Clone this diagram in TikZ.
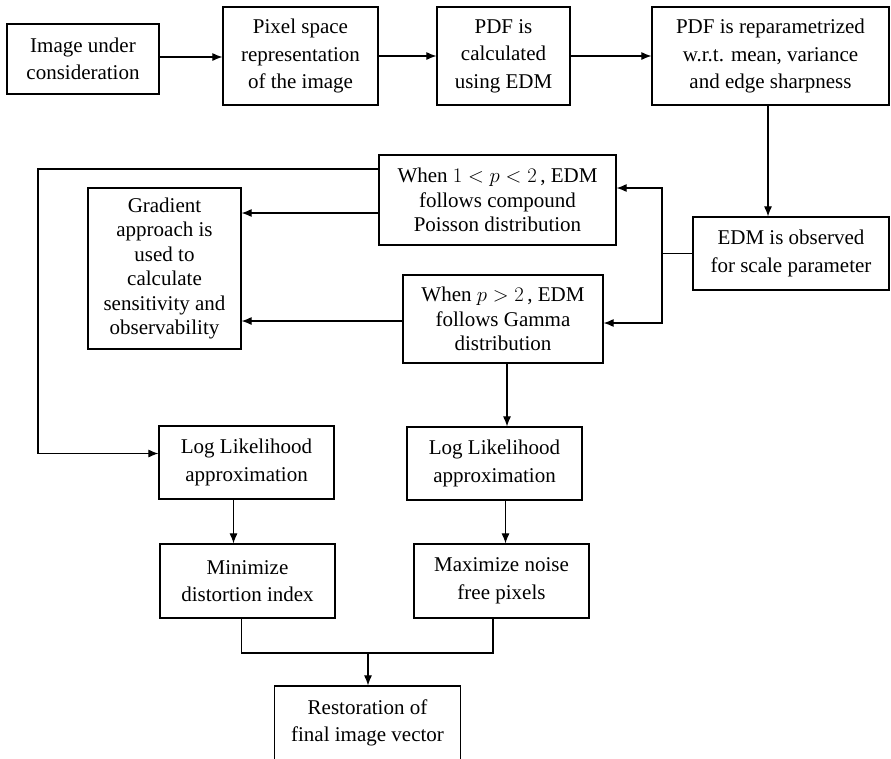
\documentclass[tikz,border=0pt]{standalone}
\usepackage{fontspec}
\setmainfont{Liberation Serif}
\usepackage{tikz}
\usetikzlibrary{arrows.meta, positioning}

\begin{document}
\begin{tikzpicture}[
  x=1pt, y=-1pt,
  block/.style={rectangle, draw, line width=1.2pt, align=center, inner sep=0pt,
    font=\fontsize{21}{27.5}\selectfont},
  tight/.style={font=\fontsize{21}{24.5}\selectfont},
  flow/.style={-{Latex[length=10pt,width=8pt]}, line width=1.1pt},
  link/.style={line width=1.1pt}
]
\useasboundingbox (0,0) rectangle (891,758);

% top row
\node[block, minimum width=152pt, minimum height=70pt] (img) at (83,59)
  {Image under\\consideration};
\node[block, minimum width=155pt, minimum height=98pt] (pix) at (300.5,56)
  {Pixel space\\representation\\of the image};
\node[block, minimum width=133pt, minimum height=98pt] (pdf) at (503.5,56)
  {PDF is\\calculated\\using EDM};
\node[block, minimum width=237pt, minimum height=98pt] (repar) at (770.5,56)
  {PDF is reparametrized\\w.r.t. mean, variance\\and edge sharpness};

% middle part
\node[block, minimum width=196pt, minimum height=73pt] (edm) at (791,253.5)
  {EDM is observed\\for scale parameter};
\node[block, tight, minimum width=237pt, minimum height=90pt] (pois) at (497.5,200)
  {When $1<p<2$\,, EDM\\follows compound\\Poisson distribution};
\node[block, tight, minimum width=200pt, minimum height=88pt] (gam) at (503,319)
  {When $p>2$\,, EDM\\follows Gamma\\distribution};
\node[block, tight, minimum width=153pt, minimum height=161pt] (grad) at (164.5,268.5)
  {Gradient\\approach is\\used to\\calculate\\sensitivity and\\observability};

% lower part
\node[block, minimum width=175pt, minimum height=73pt] (llA) at (246.5,462.5)
  {Log Likelihood\\approximation};
\node[block, minimum width=175pt, minimum height=73pt] (llB) at (494.5,463.5)
  {Log Likelihood\\approximation};
\node[block, minimum width=175pt, minimum height=74pt] (mindist) at (247.5,581)
  {Minimize\\distortion index};
\node[block, minimum width=175pt, minimum height=74pt] (maxnoise) at (501.5,581)
  {Maximize noise\\free pixels};
\node[block, minimum width=186pt, minimum height=74pt] (rest) at (367.5,723)
  {Restoration of\\final image vector};

\coordinate (split) at (662,253.5);
\coordinate (loopx) at (38,300);
\coordinate (merge) at (368,653);

% connectors
\draw[flow] ([yshift=2pt]img.east) coordinate (ie) -- (ie -| pix.west);
\draw[flow] (pix.east) -- (pdf.west);
\draw[flow] (pdf.east) -- (repar.west);
\draw[flow] ([xshift=-2.5pt]repar.south) coordinate (rs) -- (rs |- edm.north);
\draw[link] (edm.west) -- (split);
\draw[flow] (split) |- ([yshift=12pt]pois.east);
\draw[flow] (split) |- ([yshift=-4pt]gam.east);
\draw[flow] ([yshift=-13pt]pois.west) coordinate (pw) -- (pw -| grad.east);
\draw[flow] ([yshift=-2pt]gam.west) coordinate (gw) -- (gw -| grad.east);
\draw[flow] ([yshift=31pt]pois.west) -| (loopx) |- ([yshift=9pt]llA.west);
\draw[flow] ([xshift=4pt]gam.south) coordinate (gs) -- (gs |- llB.north);
\draw[flow] ([xshift=-13pt]llA.south) coordinate (las) -- (las |- mindist.north);
\draw[flow] ([xshift=11pt]llB.south) coordinate (lbs) -- (lbs |- maxnoise.north);
\draw[link] ([xshift=-6pt]mindist.south) |- (merge);
\draw[link] ([xshift=-8.5pt]maxnoise.south) |- (merge);
\draw[flow] (merge) -- (merge |- rest.north);
\end{tikzpicture}
\end{document}
